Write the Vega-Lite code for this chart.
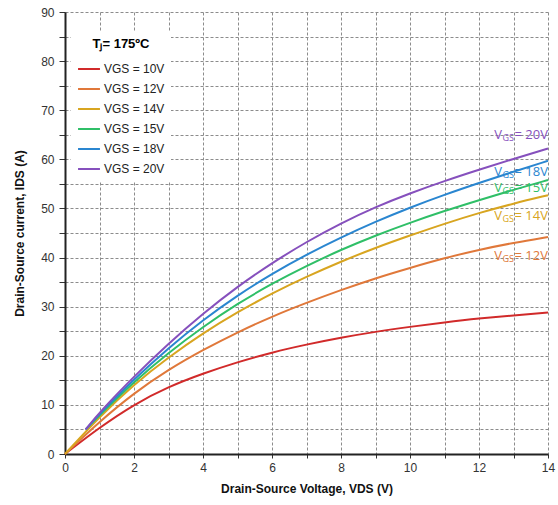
{
  "$schema": "https://vega.github.io/schema/vega-lite/v6.json",
  "width": 483,
  "height": 442,
  "autosize": {"type": "none"},
  "padding": {"left": 65, "top": 12, "right": 10, "bottom": 51},
  "background": "white",
  "config": {"view": {"stroke": null}, "font": "Liberation Sans"},
  "datasets": {
    "curves": [
      {"vgs": "VGS = 10V", "vds": 0, "ids": 0},
      {"vgs": "VGS = 10V", "vds": 1, "ids": 5.4},
      {"vgs": "VGS = 10V", "vds": 2, "ids": 10.1},
      {"vgs": "VGS = 10V", "vds": 3, "ids": 13.7},
      {"vgs": "VGS = 10V", "vds": 4, "ids": 16.4},
      {"vgs": "VGS = 10V", "vds": 5, "ids": 18.7},
      {"vgs": "VGS = 10V", "vds": 6, "ids": 20.7},
      {"vgs": "VGS = 10V", "vds": 7, "ids": 22.3},
      {"vgs": "VGS = 10V", "vds": 8, "ids": 23.7},
      {"vgs": "VGS = 10V", "vds": 9, "ids": 24.9},
      {"vgs": "VGS = 10V", "vds": 10, "ids": 25.9},
      {"vgs": "VGS = 10V", "vds": 11, "ids": 26.8},
      {"vgs": "VGS = 10V", "vds": 12, "ids": 27.6},
      {"vgs": "VGS = 10V", "vds": 13, "ids": 28.2},
      {"vgs": "VGS = 10V", "vds": 14, "ids": 28.8},
      {"vgs": "VGS = 12V", "vds": 0, "ids": 0},
      {"vgs": "VGS = 12V", "vds": 1, "ids": 6.6},
      {"vgs": "VGS = 12V", "vds": 2, "ids": 12.4},
      {"vgs": "VGS = 12V", "vds": 3, "ids": 17.2},
      {"vgs": "VGS = 12V", "vds": 4, "ids": 21.2},
      {"vgs": "VGS = 12V", "vds": 5, "ids": 24.8},
      {"vgs": "VGS = 12V", "vds": 6, "ids": 28.0},
      {"vgs": "VGS = 12V", "vds": 7, "ids": 30.8},
      {"vgs": "VGS = 12V", "vds": 8, "ids": 33.4},
      {"vgs": "VGS = 12V", "vds": 9, "ids": 35.8},
      {"vgs": "VGS = 12V", "vds": 10, "ids": 37.9},
      {"vgs": "VGS = 12V", "vds": 11, "ids": 39.9},
      {"vgs": "VGS = 12V", "vds": 12, "ids": 41.6},
      {"vgs": "VGS = 12V", "vds": 13, "ids": 43.0},
      {"vgs": "VGS = 12V", "vds": 14, "ids": 44.2},
      {"vgs": "VGS = 14V", "vds": 0, "ids": 0},
      {"vgs": "VGS = 14V", "vds": 1, "ids": 7.6},
      {"vgs": "VGS = 14V", "vds": 2, "ids": 14.2},
      {"vgs": "VGS = 14V", "vds": 3, "ids": 19.7},
      {"vgs": "VGS = 14V", "vds": 4, "ids": 24.6},
      {"vgs": "VGS = 14V", "vds": 5, "ids": 28.9},
      {"vgs": "VGS = 14V", "vds": 6, "ids": 32.7},
      {"vgs": "VGS = 14V", "vds": 7, "ids": 36.1},
      {"vgs": "VGS = 14V", "vds": 8, "ids": 39.2},
      {"vgs": "VGS = 14V", "vds": 9, "ids": 42.0},
      {"vgs": "VGS = 14V", "vds": 10, "ids": 44.5},
      {"vgs": "VGS = 14V", "vds": 11, "ids": 46.9},
      {"vgs": "VGS = 14V", "vds": 12, "ids": 49.1},
      {"vgs": "VGS = 14V", "vds": 13, "ids": 51.0},
      {"vgs": "VGS = 14V", "vds": 14, "ids": 52.7},
      {"vgs": "VGS = 15V", "vds": 0.6, "ids": 5.0},
      {"vgs": "VGS = 15V", "vds": 1, "ids": 7.9},
      {"vgs": "VGS = 15V", "vds": 2, "ids": 14.7},
      {"vgs": "VGS = 15V", "vds": 3, "ids": 20.6},
      {"vgs": "VGS = 15V", "vds": 4, "ids": 25.9},
      {"vgs": "VGS = 15V", "vds": 5, "ids": 30.6},
      {"vgs": "VGS = 15V", "vds": 6, "ids": 34.7},
      {"vgs": "VGS = 15V", "vds": 7, "ids": 38.3},
      {"vgs": "VGS = 15V", "vds": 8, "ids": 41.6},
      {"vgs": "VGS = 15V", "vds": 9, "ids": 44.5},
      {"vgs": "VGS = 15V", "vds": 10, "ids": 47.1},
      {"vgs": "VGS = 15V", "vds": 11, "ids": 49.5},
      {"vgs": "VGS = 15V", "vds": 12, "ids": 51.7},
      {"vgs": "VGS = 15V", "vds": 13, "ids": 53.8},
      {"vgs": "VGS = 15V", "vds": 14, "ids": 55.8},
      {"vgs": "VGS = 18V", "vds": 0.6, "ids": 5.0},
      {"vgs": "VGS = 18V", "vds": 1, "ids": 8.2},
      {"vgs": "VGS = 18V", "vds": 2, "ids": 15.2},
      {"vgs": "VGS = 18V", "vds": 3, "ids": 21.6},
      {"vgs": "VGS = 18V", "vds": 4, "ids": 27.3},
      {"vgs": "VGS = 18V", "vds": 5, "ids": 32.3},
      {"vgs": "VGS = 18V", "vds": 6, "ids": 36.7},
      {"vgs": "VGS = 18V", "vds": 7, "ids": 40.6},
      {"vgs": "VGS = 18V", "vds": 8, "ids": 44.1},
      {"vgs": "VGS = 18V", "vds": 9, "ids": 47.3},
      {"vgs": "VGS = 18V", "vds": 10, "ids": 50.2},
      {"vgs": "VGS = 18V", "vds": 11, "ids": 52.8},
      {"vgs": "VGS = 18V", "vds": 12, "ids": 55.2},
      {"vgs": "VGS = 18V", "vds": 13, "ids": 57.5},
      {"vgs": "VGS = 18V", "vds": 14, "ids": 59.7},
      {"vgs": "VGS = 20V", "vds": 0.6, "ids": 5.0},
      {"vgs": "VGS = 20V", "vds": 1, "ids": 8.5},
      {"vgs": "VGS = 20V", "vds": 2, "ids": 15.8},
      {"vgs": "VGS = 20V", "vds": 3, "ids": 22.5},
      {"vgs": "VGS = 20V", "vds": 4, "ids": 28.6},
      {"vgs": "VGS = 20V", "vds": 5, "ids": 34.1},
      {"vgs": "VGS = 20V", "vds": 6, "ids": 38.9},
      {"vgs": "VGS = 20V", "vds": 7, "ids": 43.2},
      {"vgs": "VGS = 20V", "vds": 8, "ids": 47.0},
      {"vgs": "VGS = 20V", "vds": 9, "ids": 50.3},
      {"vgs": "VGS = 20V", "vds": 10, "ids": 53.1},
      {"vgs": "VGS = 20V", "vds": 11, "ids": 55.6},
      {"vgs": "VGS = 20V", "vds": 12, "ids": 57.9},
      {"vgs": "VGS = 20V", "vds": 13, "ids": 60.1},
      {"vgs": "VGS = 20V", "vds": 14, "ids": 62.2}
    ],
    "labels": [
      {"vgs": "VGS = 20V", "vds": 14, "ids": 64.9, "rest": "= 20V"},
      {"vgs": "VGS = 18V", "vds": 14, "ids": 57.5, "rest": "= 18V"},
      {"vgs": "VGS = 15V", "vds": 14, "ids": 54.1, "rest": "= 15V"},
      {"vgs": "VGS = 14V", "vds": 14, "ids": 48.5, "rest": "= 14V"},
      {"vgs": "VGS = 12V", "vds": 14, "ids": 40.3, "rest": "= 12V"}
    ]
  },
  "encoding": {
    "x": {
      "field": "vds",
      "type": "quantitative",
      "scale": {"domain": [0, 14], "nice": false},
      "axis": {
        "title": "Drain-Source Voltage, VDS (V)",
        "values": [0, 1, 2, 3, 4, 5, 6, 7, 8, 9, 10, 11, 12, 13, 14],
        "labelExpr": "datum.value % 2 == 0 ? datum.label : ''",
        "labelFont": "Liberation Sans",
        "labelFontSize": 12,
        "labelColor": "#333333",
        "labelPadding": 4,
        "labelFlush": false,
        "tickSize": 4,
        "tickColor": "#333333",
        "domainColor": "#222222",
        "domainWidth": 2,
        "grid": true,
        "gridColor": "#8c8c8c",
        "gridDash": [3, 2],
        "gridWidth": 1,
        "titleFont": "Liberation Sans",
        "titleFontSize": 12,
        "titleFontWeight": "bold",
        "titleColor": "#111111",
        "titlePadding": 10
      }
    },
    "y": {
      "field": "ids",
      "type": "quantitative",
      "scale": {"domain": [0, 90], "nice": false},
      "axis": {
        "title": "Drain-Source current, IDS (A)",
        "values": [0, 5, 10, 15, 20, 25, 30, 35, 40, 45, 50, 55, 60, 65, 70, 75, 80, 85, 90],
        "labelExpr": "datum.value % 10 == 0 ? datum.label : ''",
        "labelFont": "Liberation Sans",
        "labelFontSize": 12,
        "labelColor": "#333333",
        "labelPadding": 5,
        "labelFlush": false,
        "tickSize": 6,
        "tickColor": "#333333",
        "domainColor": "#222222",
        "domainWidth": 2,
        "grid": true,
        "gridColor": "#8c8c8c",
        "gridDash": [3, 2],
        "gridWidth": 1,
        "titleFont": "Liberation Sans",
        "titleFontSize": 12,
        "titleFontWeight": "bold",
        "titleColor": "#111111",
        "titlePadding": 14
      }
    },
    "color": {
      "field": "vgs",
      "type": "nominal",
      "scale": {
        "domain": ["VGS = 10V", "VGS = 12V", "VGS = 14V", "VGS = 15V", "VGS = 18V", "VGS = 20V"],
        "range": ["#d12a2a", "#e0783a", "#d8a520", "#2fbf67", "#2a86d0", "#8650bd"]
      },
      "legend": null
    }
  },
  "layer": [
    {
      "data": {"name": "curves"},
      "mark": {"type": "line", "interpolate": "basis", "strokeWidth": 2},
      "encoding": {
        "color": {
          "field": "vgs",
          "type": "nominal",
          "legend": {
            "title": "Tⱼ= 175ºC",
            "orient": "none",
            "legendX": 6,
            "legendY": 20,
            "fillColor": "white",
            "padding": 6,
            "symbolType": "stroke",
            "symbolSize": 480,
            "symbolStrokeWidth": 2,
            "labelFont": "Liberation Sans",
            "labelFontSize": 12,
            "labelColor": "#222222",
            "labelOffset": 3,
            "titleFont": "Liberation Sans",
            "titleFontSize": 13,
            "titleFontWeight": "bold",
            "titleColor": "#000000",
            "titleAnchor": "middle",
            "titlePadding": 6,
            "rowPadding": 2
          }
        }
      }
    },
    {
      "data": {"name": "labels"},
      "mark": {"type": "text", "align": "right", "baseline": "middle", "font": "Open Sans", "fontSize": 13, "dx": 0},
      "encoding": {"text": {"field": "rest"}}
    },
    {
      "data": {"name": "labels"},
      "mark": {"type": "text", "text": "GS", "align": "right", "baseline": "middle", "font": "Open Sans", "fontSize": 9, "dx": -34, "dy": 3}
    },
    {
      "data": {"name": "labels"},
      "mark": {"type": "text", "text": "V", "align": "right", "baseline": "middle", "font": "Open Sans", "fontSize": 13, "dx": -46}
    }
  ]
}
